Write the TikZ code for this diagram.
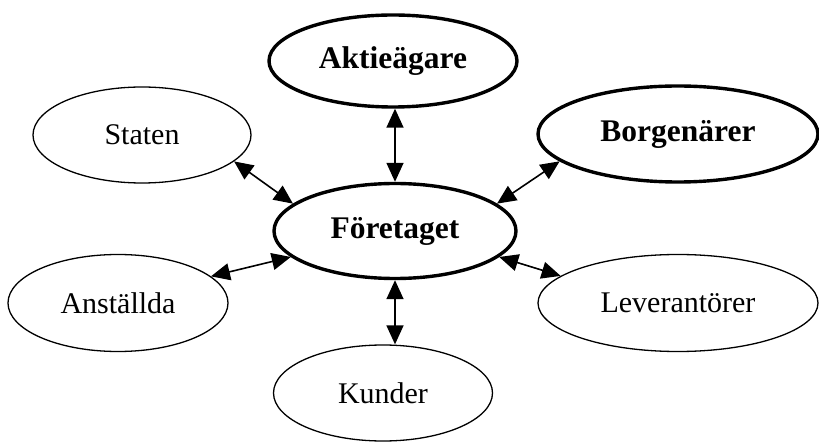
\documentclass[tikz,border=0pt]{standalone}
\usepackage{fontspec}
\setmainfont{Liberation Serif}
\usetikzlibrary{shapes.geometric,arrows.meta}
\tikzset{
  plain/.style={ellipse,draw,line width=1.3pt,inner sep=0pt,font=\fontsize{30}{32}\selectfont},
  strong/.style={ellipse,draw,line width=3.4pt,inner sep=0pt,font=\fontsize{31.5}{34}\selectfont\bfseries},
  link/.style={line width=1.6pt,{Triangle[length=19pt,width=17pt]}-{Triangle[length=19pt,width=17pt]}}
}
\begin{document}
\begin{tikzpicture}[x=1pt,y=1pt]
\useasboundingbox (0,0) rectangle (819,442);
\node[strong,minimum width=248pt,minimum height=92pt] (A) at (393,381) {Aktieägare};
\node[plain,minimum width=218pt,minimum height=96pt] (S) at (142,307) {Staten};
\node[strong,minimum width=280pt,minimum height=96pt] (B) at (678,308) {Borgenärer};
\node[strong,minimum width=242pt,minimum height=95pt] (F) at (395,211) {Företaget};
\node[plain,minimum width=220pt,minimum height=97pt] (N) at (118,139) {Anställda};
\node[plain,minimum width=280pt,minimum height=97pt] (L) at (678,139) {Leverantörer};
\node[plain,minimum width=219pt,minimum height=96pt] (K) at (383,49) {Kunder};
\draw[link] (A.south -| F.north) -- (F.north);
\draw[link] (S.-16) -- (F.165);
\draw[link] (B.-167) -- (F.15);
\draw[link] (N.16) -- (F.-166);
\draw[link] (L.167) -- (F.-14);
\draw[link] (F.south) -- (K.north -| F.south);
\end{tikzpicture}
\end{document}
